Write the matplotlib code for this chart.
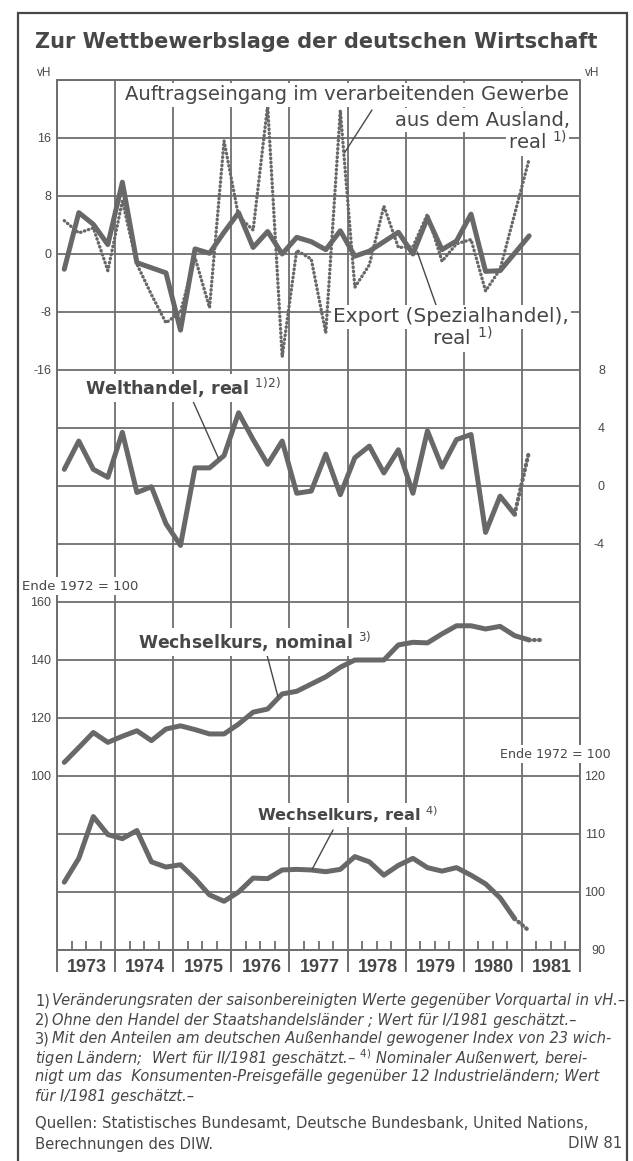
import numpy as np
import matplotlib.pyplot as plt
from matplotlib.patches import Rectangle

plt.rcParams['font.family'] = ['Liberation Sans', 'DejaVu Sans']
plt.rcParams['axes.unicode_minus'] = False

W, H = 633, 1161  # 输出图像尺寸（像素）

# 季度：1973 I – 1981 II
quarters = [f'{y}Q{q}' for y in range(1973, 1982) for q in range(1, 5)][:34]
years = list(range(1973, 1982))

# 上图：Veränderung gegenüber Vorquartal in vH
export_real = [-2.1, 5.7, 4.1, 1.3, 9.9, -1.2, -1.9, -2.6,
               -10.5, 0.7, 0.1, 3.0, 5.7, 0.9, 3.1, 0.0,
               2.3, 1.7, 0.6, 3.2, -0.3, 0.4, 1.7, 3.0,
               0.0, 5.0, 0.6, 1.8, 5.5, -2.4, -2.3, 0.1, 2.5]
auftrag_ausland = [4.6, 2.9, 3.6, -2.3, 7.3, -1.4, -5.6, -9.5,
                   -8.0, -0.5, -7.4, 15.6, 5.2, 3.3, 20.5, -14.2,
                   0.5, -0.7, -10.9, 19.8, -4.6, -1.5, 6.6, 0.9,
                   1.0, 5.5, -1.0, 1.4, 2.0, -5.1, -2.1, 5.5, 13.1]

# 第二图：Welthandel（最后一个值为估计值）
welthandel = [1.15, 3.1, 1.15, 0.6, 3.7, -0.45, -0.05, -2.6,
              -4.1, 1.25, 1.25, 2.1, 5.05, 3.2, 1.5, 3.1,
              -0.5, -0.35, 2.2, -0.6, 1.95, 2.75, 0.9, 2.5,
              -0.5, 3.8, 1.3, 3.2, 3.55, -3.2, -0.7, -1.95, 2.4]

# 汇率指数，Ende 1972 = 100（最后一个值为估计值）
wk_nominal = [104.7, 109.8, 115.0, 111.6, 113.7, 115.6, 112.2, 116.2,
              117.3, 116.0, 114.5, 114.5, 117.9, 122.0, 123.1, 128.3,
              129.2, 131.7, 134.2, 137.5, 140.0, 140.0, 140.0, 145.2,
              146.1, 145.9, 149.0, 151.8, 151.8, 150.7, 151.6, 148.4,
              146.9, 146.9]
wk_real = [101.7, 105.8, 113.0, 109.9, 109.2, 110.6, 105.2, 104.3,
           104.7, 102.3, 99.5, 98.4, 100.0, 102.4, 102.3, 103.8,
           103.9, 103.8, 103.5, 103.9, 106.1, 105.2, 102.9, 104.6,
           105.8, 104.2, 103.6, 104.2, 102.9, 101.4, 99.0, 95.4, 93.3]

# 刻度标签
vh_ticks = [16, 8, 0, -8, -16]
welt_ticks = [8, 4, 0, -4]
nominal_ticks = [160, 140, 120, 100]
real_ticks = [120, 110, 100, 90]

footnotes = [
    ('1)', 'Veränderungsraten der saisonbereinigten Werte gegenüber Vorquartal in vH.–'),
    ('2)', 'Ohne den Handel der Staatshandelsländer ; Wert für I/1981 geschätzt.–'),
    ('3)', 'Mit den Anteilen am deutschen Außenhandel gewogener Index von 23 wich-'),
    ('', 'tigen Ländern;  Wert für II/1981 geschätzt.– $^{4)}$ Nominaler Außenwert, berei-'),
    ('', 'nigt um das  Konsumenten-Preisgefälle gegenüber 12 Industrieländern; Wert'),
    ('', 'für I/1981 geschätzt.–'),
]

ink = '#474747'
line_col = '#686868'
grid_col = '#6e6e6e'

qx = np.array([int(q[:4]) + (int(q[-1]) - 0.5) / 4 for q in quarters])

fig = plt.figure(figsize=(W / 100, H / 100), dpi=100)
fig.patch.set_facecolor('white')
r = fig.canvas.get_renderer()


def fig_xy(x, y):
    """像素坐标 -> figure fraction"""
    return x / W, 1 - y / H


def fit_text(s, x0, x1, y, size=10, box=True, **kw):
    """放置文字，并调整字号使其宽度为 x1 - x0"""
    t = fig.text(*fig_xy(x0, y), s, ha='left', va='center', fontsize=size,
                 color=ink, zorder=5, **kw)
    w = t.get_window_extent(renderer=r).width
    t.set_fontsize(size * (x1 - x0) / w)
    if box:
        t.set_bbox(dict(facecolor='white', edgecolor='none', pad=1.5))
    return t


def put_text(s, x, y, size, ha='left', box=True, **kw):
    t = fig.text(*fig_xy(x, y), s, ha=ha, va='center', fontsize=size,
                 color=ink, zorder=5, **kw)
    if box:
        t.set_bbox(dict(facecolor='white', edgecolor='none', pad=1.5))
    return t


def leader(ax, xy, x_px, y_px):
    ax.annotate('', xy=xy, xytext=fig_xy(x_px, y_px), textcoords='figure fraction',
                arrowprops=dict(arrowstyle='-', color=ink, lw=1.0, shrinkA=0, shrinkB=0))


# 外框
fig.add_artist(Rectangle(fig_xy(18, 1175), (627 - 18) / W, (1175 - 13) / H,
                         transform=fig.transFigure, fill=False, edgecolor=ink, lw=1.6))

# 四个面板共用一个绘图区
ax1 = fig.add_axes([57 / W, 1 - 950 / H, 523 / W, 870 / H])
ax2 = ax1.twinx()
ax3 = ax1.twinx()
ax4 = ax1.twinx()

ax1.set_xlim(1973, 1982)
ax1.set_ylim(-96, 24)
ax2.set_ylim(-32, 28)
ax3.set_ylim(40, 340)
ax4.set_ylim(90, 240)

grid_vals = np.arange(-96, 25, 8)
ax1.set_yticks(grid_vals)
ax1.set_yticklabels([str(v) if v in vh_ticks else '' for v in grid_vals])
ax1.set_xticks(years + [1982])
ax1.set_xticks([y + k / 4 for y in years for k in (1, 2, 3)], minor=True)
ax1.grid(True, which='major', color=grid_col, lw=1.3)
ax1.set_axisbelow(True)
ax1.tick_params(axis='x', which='major', direction='out', length=16, width=1.4,
                color=grid_col, labelbottom=False)
ax1.tick_params(axis='x', which='minor', direction='in', length=6.5, width=1.3,
                color=grid_col)
ax1.tick_params(axis='y', length=0, pad=4, labelsize=9, labelcolor=ink)
for sp in ax1.spines.values():
    sp.set_color(grid_col)
    sp.set_linewidth(1.4)

for ax in (ax2, ax3, ax4):
    for sp in ax.spines.values():
        sp.set_visible(False)

ax2.set_yticks(welt_ticks)
ax2.set_yticklabels([str(v) for v in welt_ticks], ha='right')
ax2.tick_params(axis='y', length=0, pad=18, labelsize=9, labelcolor=ink)

ax3.yaxis.tick_left()
ax3.set_yticks(nominal_ticks)
ax3.tick_params(axis='y', length=0, pad=4, labelsize=9, labelcolor=ink)

ax4.set_yticks(real_ticks)
ax4.set_yticklabels([str(v) for v in real_ticks], ha='right')
ax4.tick_params(axis='y', length=0, pad=18, labelsize=9, labelcolor=ink)

# 数据线
lw = 3.6
solid = dict(color=line_col, lw=lw, solid_joinstyle='round', solid_capstyle='round')
est = dict(color=line_col, lw=3.0, ls=(0, (0.2, 1.0)), dash_capstyle='round')
ax1.plot(qx[:33], auftrag_ausland, color=line_col, lw=2.4, ls=(0, (0.15, 1.1)),
         dash_capstyle='round', zorder=3)
ax1.plot(qx[:33], export_real, zorder=4, **solid)

ax2.plot(qx[:32], welthandel[:32], **solid)
ax2.plot(qx[31:33], welthandel[31:33], **est)

ax3.plot(qx[:33], wk_nominal[:33], **solid)
ax3.plot(qx[32:34], wk_nominal[32:34], **est)

ax4.plot(qx[:32], wk_real[:32], **solid)
ax4.plot(qx[31:33], wk_real[31:33], **est)

# 年份标签
for y in years:
    ax1.text(y + 0.52, -17 / 870, str(y), transform=ax1.get_xaxis_transform(),
             ha='center', va='center', fontsize=13, fontweight='bold', color=ink)

# 标题与单位
fit_text('Zur Wettbewerbslage der deutschen Wirtschaft', 35, 600, 42, size=15,
         box=False, fontweight='bold', family='DejaVu Sans')
put_text('vH', 51, 73, 8.5, ha='right', box=False)
put_text('vH', 585, 73, 8.5, box=False)
fit_text('Ende 1972 = 100', 22, 138, 586, family='DejaVu Sans')
fit_text('Ende 1972 = 100', 500, 610, 754, family='DejaVu Sans')

# 曲线说明
t = fit_text('Auftragseingang im verarbeitenden Gewerbe', 125, 570, 95, size=13,
             family='DejaVu Sans')
fs = t.get_fontsize()
put_text('aus dem Ausland,', 570, 120, fs, ha='right', family='DejaVu Sans')
put_text('real $^{1)}$', 567, 142, fs, ha='right', family='DejaVu Sans')
leader(ax1, (1977.95, 14), 372, 110)

t = fit_text('Export (Spezialhandel),', 333, 568, 317, size=13, family='DejaVu Sans')
put_text('real $^{1)}$', 462, 338, t.get_fontsize(), ha='center', family='DejaVu Sans')
leader(ax1, (1979.2, 0.3), 436, 305)

fit_text('Welthandel, real $^{1)2)}$', 85, 280, 388, size=13, family='DejaVu Sans',
         fontweight='bold')
leader(ax2, (1975.78, 1.9), 192, 399)

fit_text('Wechselkurs, nominal $^{3)}$', 138, 370, 642, size=13, family='DejaVu Sans',
         fontweight='bold')
leader(ax3, (1976.8, 127.5), 267, 655)

fit_text('Wechselkurs, real $^{4)}$', 257, 437, 815, size=13, family='DejaVu Sans',
         fontweight='bold')
leader(ax4, (1977.39, 103.9), 333, 830)

# 脚注
t = fit_text(footnotes[0][1], 52, 623, 1001, size=9, box=False, family='DejaVu Sans',
             style='italic')
fn_size = t.get_fontsize()
for i, (mark, txt) in enumerate(footnotes):
    y = 1001 + i * 19
    if mark:
        put_text(mark, 35, y, fn_size, box=False, family='DejaVu Sans')
        if i > 0:
            put_text(txt, 52, y, fn_size, box=False, family='DejaVu Sans', style='italic')
    else:
        put_text(txt, 35, y, fn_size, box=False, family='DejaVu Sans', style='italic')

t = fit_text('Quellen: Statistisches Bundesamt, Deutsche Bundesbank, United Nations,',
             35, 588, 1124, size=9, box=False, family='DejaVu Sans')
put_text('Berechnungen des DIW.', 35, 1144, t.get_fontsize(), box=False, family='DejaVu Sans')
put_text('DIW 81', 622, 1144, t.get_fontsize(), ha='right', box=False, family='DejaVu Sans')

fig.savefig('out.png', dpi=100)
